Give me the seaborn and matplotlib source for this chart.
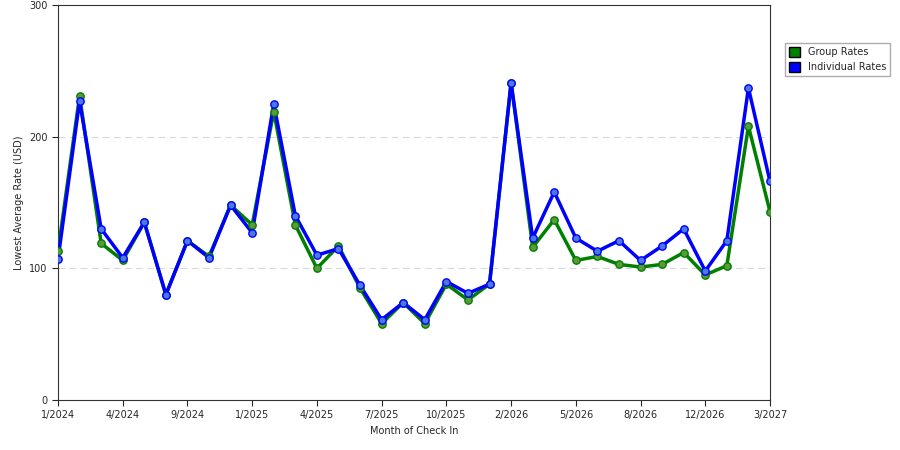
import numpy as np
import pandas as pd
import matplotlib
matplotlib.use("Agg")
import matplotlib.pyplot as plt
import seaborn as sns
from matplotlib.patches import Patch

months = ["1/2024", "2/2024", "3/2024", "4/2024", "6/2024", "8/2024", "9/2024", "10/2024",
          "11/2024", "1/2025", "2/2025", "3/2025", "4/2025", "5/2025", "6/2025", "7/2025",
          "8/2025", "9/2025", "10/2025", "11/2025", "12/2025", "2/2026", "3/2026", "4/2026",
          "5/2026", "6/2026", "7/2026", "8/2026", "9/2026", "10/2026", "12/2026", "1/2027",
          "2/2027", "3/2027"]
group_rates = [113, 231, 119, 106, 135, 80, 121, 109, 148, 133, 219, 133, 100, 117, 85, 58, 74,
               58, 88, 76, 88, 241, 116, 137, 106, 109, 103, 101, 103, 112, 95, 102, 208, 143]
indiv_rates = [107, 227, 130, 108, 135, 80, 121, 108, 148, 127, 225, 140, 110, 115, 87, 61, 74,
               61, 90, 81, 88, 241, 123, 158, 123, 113, 121, 106, 117, 130, 98, 121, 237, 166]
tick_labels = ["1/2024", "4/2024", "9/2024", "1/2025", "4/2025", "7/2025", "10/2025",
               "2/2026", "5/2026", "8/2026", "12/2026", "3/2027"]

df = pd.DataFrame({"idx": range(len(months)), "month": months,
                   "Group Rates": group_rates, "Individual Rates": indiv_rates})

sns.set_style("white")
plt.rcParams["font.family"] = ["DejaVu Sans"]
fig = plt.figure(figsize=(9, 4.5), dpi=100)
ax = fig.add_axes([58 / 900, 50 / 450, 712 / 900, 395 / 450])

for col, c, mc in [("Group Rates", "#008000", "#5a9a3a"), ("Individual Rates", "#0000ff", "#4a7adf")]:
    sns.lineplot(data=df, x="idx", y=col, ax=ax, color=c, lw=2.5, zorder=3)
    ax.scatter(df["idx"], df[col], s=28, color=mc, edgecolor=c, linewidth=1, zorder=4)

ax.set_xlim(0, len(months) - 1)
ax.set_ylim(0, 300)
ax.set_yticks([0, 100, 200, 300])
ax.set_xticks(range(0, len(months), 3))
ax.set_xticklabels(tick_labels)
ax.tick_params(labelsize=7, length=4, direction="out", left=True, bottom=True)
for y in [100, 200]:
    ax.axhline(y, color="#d8d8d8", ls=(0, (6, 4)), lw=0.8, zorder=1)
for s in ax.spines.values():
    s.set_color("#333333")
    s.set_linewidth(0.8)
ax.set_xlabel("Month of Check In", fontsize=7)
ax.set_ylabel("Lowest Average Rate (USD)", fontsize=7)

handles = [Patch(facecolor="#008000", edgecolor="black", label="Group Rates"),
           Patch(facecolor="#0000ff", edgecolor="black", label="Individual Rates")]
fig.legend(handles=handles, loc="upper left", bbox_to_anchor=(780 / 900, 1 - 38 / 450),
           fontsize=7, frameon=True, edgecolor="#999999", fancybox=False,
           handlelength=1.2, handleheight=1.2)

fig.savefig("out.png", dpi=100)
